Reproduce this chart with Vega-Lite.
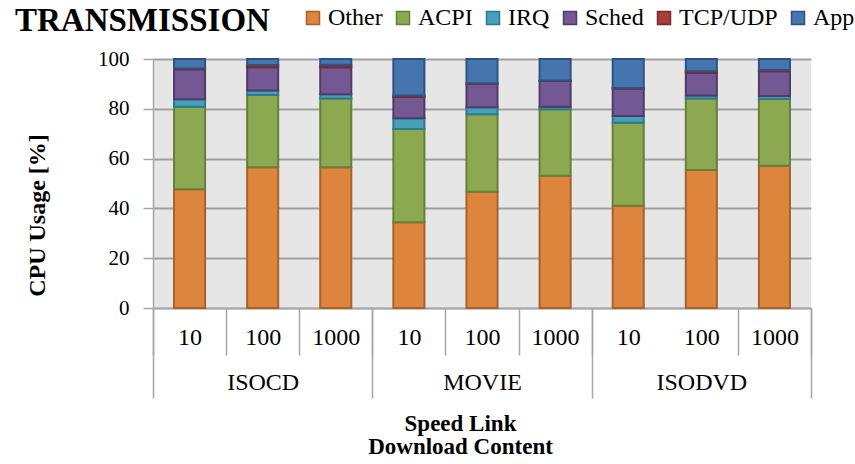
{
  "$schema": "https://vega.github.io/schema/vega-lite/v6.json",
  "width": 658,
  "height": 249,
  "autosize": {"type": "none"},
  "padding": {"left": 153, "top": 59, "right": 44, "bottom": 156},
  "background": "white",
  "config": {
    "font": "Liberation Serif",
    "view": {"fill": "#e6e6e6", "stroke": null}
  },
  "title": {
    "text": "TRANSMISSION",
    "anchor": "start",
    "frame": "group",
    "dx": -138,
    "offset": -32,
    "fontSize": 33,
    "fontWeight": "bold",
    "font": "Liberation Serif",
    "color": "black"
  },
  "data": {
    "values": [
      {"content": "ISOCD", "cell": "ISOCD 10", "series": "Other", "value": 47.7},
      {"content": "ISOCD", "cell": "ISOCD 10", "series": "ACPI", "value": 33.1},
      {"content": "ISOCD", "cell": "ISOCD 10", "series": "IRQ", "value": 3.0},
      {"content": "ISOCD", "cell": "ISOCD 10", "series": "Sched", "value": 12.1},
      {"content": "ISOCD", "cell": "ISOCD 10", "series": "TCP/UDP", "value": 0.3},
      {"content": "ISOCD", "cell": "ISOCD 10", "series": "App", "value": 3.8},
      {"content": "ISOCD", "cell": "ISOCD 100", "series": "Other", "value": 56.5},
      {"content": "ISOCD", "cell": "ISOCD 100", "series": "ACPI", "value": 29.0},
      {"content": "ISOCD", "cell": "ISOCD 100", "series": "IRQ", "value": 1.8},
      {"content": "ISOCD", "cell": "ISOCD 100", "series": "Sched", "value": 9.4},
      {"content": "ISOCD", "cell": "ISOCD 100", "series": "TCP/UDP", "value": 0.9},
      {"content": "ISOCD", "cell": "ISOCD 100", "series": "App", "value": 2.4},
      {"content": "ISOCD", "cell": "ISOCD 1000", "series": "Other", "value": 56.5},
      {"content": "ISOCD", "cell": "ISOCD 1000", "series": "ACPI", "value": 27.6},
      {"content": "ISOCD", "cell": "ISOCD 1000", "series": "IRQ", "value": 1.7},
      {"content": "ISOCD", "cell": "ISOCD 1000", "series": "Sched", "value": 10.9},
      {"content": "ISOCD", "cell": "ISOCD 1000", "series": "TCP/UDP", "value": 1.0},
      {"content": "ISOCD", "cell": "ISOCD 1000", "series": "App", "value": 2.3},
      {"content": "MOVIE", "cell": "MOVIE 10", "series": "Other", "value": 34.4},
      {"content": "MOVIE", "cell": "MOVIE 10", "series": "ACPI", "value": 37.5},
      {"content": "MOVIE", "cell": "MOVIE 10", "series": "IRQ", "value": 4.3},
      {"content": "MOVIE", "cell": "MOVIE 10", "series": "Sched", "value": 8.5},
      {"content": "MOVIE", "cell": "MOVIE 10", "series": "TCP/UDP", "value": 0.6},
      {"content": "MOVIE", "cell": "MOVIE 10", "series": "App", "value": 14.7},
      {"content": "MOVIE", "cell": "MOVIE 100", "series": "Other", "value": 46.7},
      {"content": "MOVIE", "cell": "MOVIE 100", "series": "ACPI", "value": 31.1},
      {"content": "MOVIE", "cell": "MOVIE 100", "series": "IRQ", "value": 2.8},
      {"content": "MOVIE", "cell": "MOVIE 100", "series": "Sched", "value": 9.4},
      {"content": "MOVIE", "cell": "MOVIE 100", "series": "TCP/UDP", "value": 0.3},
      {"content": "MOVIE", "cell": "MOVIE 100", "series": "App", "value": 9.7},
      {"content": "MOVIE", "cell": "MOVIE 1000", "series": "Other", "value": 53.1},
      {"content": "MOVIE", "cell": "MOVIE 1000", "series": "ACPI", "value": 26.7},
      {"content": "MOVIE", "cell": "MOVIE 1000", "series": "IRQ", "value": 1.0},
      {"content": "MOVIE", "cell": "MOVIE 1000", "series": "Sched", "value": 10.4},
      {"content": "MOVIE", "cell": "MOVIE 1000", "series": "TCP/UDP", "value": 0.2},
      {"content": "MOVIE", "cell": "MOVIE 1000", "series": "App", "value": 8.6},
      {"content": "ISODVD", "cell": "ISODVD 10", "series": "Other", "value": 41.1},
      {"content": "ISODVD", "cell": "ISODVD 10", "series": "ACPI", "value": 33.3},
      {"content": "ISODVD", "cell": "ISODVD 10", "series": "IRQ", "value": 2.7},
      {"content": "ISODVD", "cell": "ISODVD 10", "series": "Sched", "value": 11.1},
      {"content": "ISODVD", "cell": "ISODVD 10", "series": "TCP/UDP", "value": 0.2},
      {"content": "ISODVD", "cell": "ISODVD 10", "series": "App", "value": 11.6},
      {"content": "ISODVD", "cell": "ISODVD 100", "series": "Other", "value": 55.4},
      {"content": "ISODVD", "cell": "ISODVD 100", "series": "ACPI", "value": 28.7},
      {"content": "ISODVD", "cell": "ISODVD 100", "series": "IRQ", "value": 1.2},
      {"content": "ISODVD", "cell": "ISODVD 100", "series": "Sched", "value": 9.2},
      {"content": "ISODVD", "cell": "ISODVD 100", "series": "TCP/UDP", "value": 0.6},
      {"content": "ISODVD", "cell": "ISODVD 100", "series": "App", "value": 4.9},
      {"content": "ISODVD", "cell": "ISODVD 1000", "series": "Other", "value": 57.1},
      {"content": "ISODVD", "cell": "ISODVD 1000", "series": "ACPI", "value": 26.8},
      {"content": "ISODVD", "cell": "ISODVD 1000", "series": "IRQ", "value": 1.2},
      {"content": "ISODVD", "cell": "ISODVD 1000", "series": "Sched", "value": 10.0},
      {"content": "ISODVD", "cell": "ISODVD 1000", "series": "TCP/UDP", "value": 0.5},
      {"content": "ISODVD", "cell": "ISODVD 1000", "series": "App", "value": 4.4}
    ]
  },
  "layer": [
    {
      "transform": [
        {"calculate": "indexof(['Other', 'ACPI', 'IRQ', 'Sched', 'TCP/UDP', 'App'], datum.series)", "as": "stackRank"}
      ],
      "mark": {"type": "bar", "width": {"band": 0.425}, "strokeWidth": 2},
      "encoding": {
        "x": {
          "field": "cell",
          "type": "nominal",
          "sort": null,
          "scale": {"paddingInner": 0, "paddingOuter": 0},
          "axis": {
            "title": null,
            "orient": "bottom",
            "tickBand": "extent",
            "tickSize": 47,
            "tickColor": "#a6a6a6",
            "tickWidth": 1.5,
            "tickOpacity": {"condition": {"test": "datum.value === 'ISODVD 10'", "value": 0}, "value": 1},
            "labelExpr": "split(datum.label, ' ')[1]",
            "labelAngle": 0,
            "labelPadding": -18,
            "labelBaseline": "middle",
            "labelFont": "Liberation Serif",
            "labelFontSize": 24,
            "labelColor": "black",
            "labelOverlap": false,
            "labelBound": false,
            "domainColor": "#a6a6a6",
            "domainWidth": 1.5,
            "grid": false
          }
        },
        "y": {
          "field": "value",
          "type": "quantitative",
          "stack": "zero",
          "scale": {"domain": [0, 100], "nice": false},
          "axis": {
            "title": "CPU Usage [%]",
            "values": [0, 20, 40, 60, 80, 100],
            "grid": true,
            "gridColor": "#a0a0a0",
            "gridWidth": 2,
            "domainColor": "#a6a6a6",
            "domainWidth": 1.5,
            "tickColor": "#a6a6a6",
            "tickSize": 10,
            "tickWidth": 1.5,
            "labelFont": "Liberation Serif",
            "labelFontSize": 21,
            "labelColor": "black",
            "labelPadding": 14,
            "titleFont": "Liberation Serif",
            "titleFontSize": 24,
            "titleFontWeight": "bold",
            "titleColor": "black",
            "titleAngle": -90,
            "titleAlign": "center",
            "titleBaseline": "middle",
            "titleX": -116,
            "titleY": 156
          }
        },
        "order": {"field": "stackRank", "type": "quantitative", "sort": "ascending"},
        "color": {
          "field": "series",
          "type": "nominal",
          "scale": {
            "domain": ["Other", "ACPI", "IRQ", "Sched", "TCP/UDP", "App"],
            "range": ["#de853d", "#8ca850", "#45a0ba", "#745894", "#a63e3b", "#4674af"]
          },
          "legend": {
            "orient": "none",
            "legendX": 148,
            "legendY": -53,
            "direction": "horizontal",
            "columns": 6,
            "gridAlign": "none",
            "title": null,
            "symbolType": "square",
            "symbolSize": 169,
            "symbolStrokeWidth": 1.5,
            "labelFont": "Liberation Serif",
            "labelFontSize": 24,
            "labelColor": "black",
            "labelOffset": 3,
            "columnPadding": 8
          }
        },
        "stroke": {
          "field": "series",
          "type": "nominal",
          "scale": {
            "domain": ["Other", "ACPI", "IRQ", "Sched", "TCP/UDP", "App"],
            "range": ["#a8622b", "#66803a", "#2e7a8f", "#4f3c68", "#7b2a28", "#2d5284"]
          },
          "legend": {
            "orient": "none",
            "legendX": 148,
            "legendY": -53,
            "direction": "horizontal",
            "columns": 6,
            "gridAlign": "none",
            "title": null,
            "symbolType": "square",
            "symbolSize": 169,
            "symbolStrokeWidth": 1.5,
            "labelFont": "Liberation Serif",
            "labelFontSize": 24,
            "labelColor": "black",
            "labelOffset": 3,
            "columnPadding": 8
          }
        }
      }
    },
    {
      "mark": {"type": "rule", "opacity": 0},
      "encoding": {
        "x": {
          "field": "content",
          "type": "nominal",
          "sort": null,
          "scale": {"type": "band", "paddingInner": 0, "paddingOuter": 0},
          "axis": {
            "title": ["Speed Link", "Download Content"],
            "orient": "bottom",
            "domain": false,
            "tickBand": "extent",
            "tickSize": 90,
            "tickColor": "#a6a6a6",
            "tickWidth": 1.5,
            "labelAngle": 0,
            "labelPadding": -16,
            "labelBaseline": "middle",
            "labelFont": "Liberation Serif",
            "labelFontSize": 24,
            "labelColor": "black",
            "labelOverlap": false,
            "labelBound": false,
            "grid": false,
            "titleFont": "Liberation Serif",
            "titleFontSize": 23,
            "titleFontWeight": "bold",
            "titleColor": "black",
            "titleLineHeight": 23,
            "titleAlign": "center",
            "titleBaseline": "top",
            "titleX": 307,
            "titleY": 104
          }
        }
      }
    }
  ],
  "resolve": {"scale": {"x": "independent"}, "axis": {"x": "independent"}}
}
